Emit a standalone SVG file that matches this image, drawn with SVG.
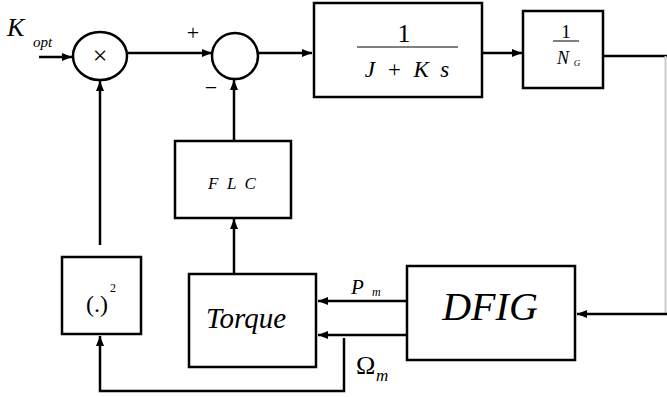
<svg xmlns="http://www.w3.org/2000/svg" width="667" height="397" viewBox="0 0 667 397">
<style>
.b{fill:#fff;stroke:#000;stroke-width:2.5}
.l{fill:none;stroke:#000;stroke-width:2.5}
text{font-family:"Liberation Serif","Times New Roman","DejaVu Serif",serif;fill:#000}
.i{font-style:italic}
</style>
<defs>
<marker id="a" viewBox="0 0 10 10" refX="10" refY="5" markerWidth="10" markerHeight="10" markerUnits="userSpaceOnUse" orient="auto"><path d="M0,1 L10,5 L0,9 z" fill="#000"/></marker>
</defs>
<rect width="667" height="397" fill="#fff"/>
<g id="connectors">
<path class="l" d="M39,57 H72" marker-end="url(#a)"/>
<path class="l" d="M128,53 H212" marker-end="url(#a)"/>
<path class="l" d="M258,53 H312" marker-end="url(#a)"/>
<path class="l" d="M482,53 H522" marker-end="url(#a)"/>
<path class="l" d="M603,56 H667"/>
<path d="M665.5,56 V314" fill="none" stroke="#ccc" stroke-width="2"/>
<path class="l" d="M667,314 H577" marker-end="url(#a)" stroke-width="2"/>
<path class="l" d="M407,301 H318" marker-end="url(#a)"/>
<path class="l" d="M407,335 H318" marker-end="url(#a)"/>
<path class="l" d="M344,338 V391 H100 V336" marker-end="url(#a)"/>
<path class="l" d="M100,245 V81" marker-end="url(#a)"/>
<path class="l" d="M234,274 V219" marker-end="url(#a)"/>
<path class="l" d="M234,141 V80" marker-end="url(#a)"/>
</g>
<g id="kopt">
<text class="i" x="7" y="36" font-size="26">K</text>
<text class="i" x="33" y="47" font-size="15">opt</text>
</g>
<g id="mult">
<ellipse class="b" cx="100" cy="56" rx="27" ry="24"/>
<text x="100" y="64" font-size="26" text-anchor="middle">×</text>
</g>
<g id="sum">
<circle class="b" cx="235" cy="56" r="23"/>
<text x="193" y="40" font-size="22" text-anchor="middle">+</text>
<text x="211" y="95" font-size="22" text-anchor="middle">−</text>
</g>
<g id="plant">
<rect class="b" x="314" y="3" width="168" height="94"/>
<text x="404" y="42" font-size="26" text-anchor="middle">1</text>
<path d="M357,47 H458" stroke="#000" stroke-width="1.2"/>
<text class="i" x="407" y="77" font-size="23" text-anchor="middle" xml:space="preserve">J  +  K  s</text>
</g>
<g id="gear">
<rect class="b" x="523" y="11" width="80" height="77"/>
<text x="566" y="38" font-size="19" text-anchor="middle">1</text>
<path d="M553,41 H579" stroke="#000" stroke-width="1"/>
<text class="i" x="563" y="64" font-size="18" text-anchor="middle">N</text>
<text class="i" x="577" y="66" font-size="9" text-anchor="middle">G</text>
</g>
<g id="flc">
<rect class="b" x="175" y="141" width="116" height="77"/>
<text class="i" x="232" y="189" font-size="17" text-anchor="middle" xml:space="preserve">F  L  C</text>
</g>
<g id="square">
<rect class="b" x="62" y="257" width="79" height="77"/>
<text x="97" y="312" font-size="24" text-anchor="middle">(.)</text>
<text x="113" y="292" font-size="12" text-anchor="middle">2</text>
</g>
<g id="torque">
<rect class="b" x="189" y="274" width="127" height="93"/>
<text class="i" x="246" y="328" font-size="29" text-anchor="middle">Torque</text>
</g>
<g id="dfig">
<rect class="b" x="407" y="266" width="168" height="94"/>
<text class="i" x="490" y="320" font-size="40" text-anchor="middle">DFIG</text>
</g>
<g id="labels">
<text class="i" x="351" y="294" font-size="21">P</text>
<text class="i" x="372" y="296" font-size="12">m</text>
<text x="356" y="374" font-size="26">Ω</text>
<text class="i" x="376" y="381" font-size="17">m</text>
</g>
</svg>
